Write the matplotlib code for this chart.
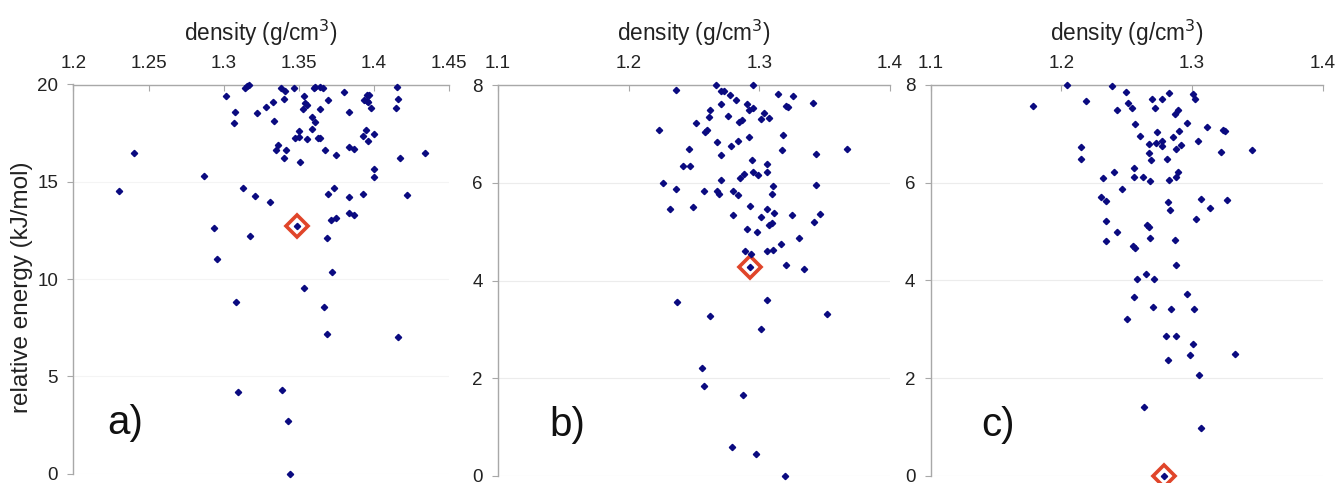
import matplotlib
matplotlib.use("Agg")
import matplotlib.pyplot as plt
from matplotlib.ticker import FuncFormatter

plt.rcParams['font.family'] = ['Liberation Sans', 'DejaVu Sans']

# ---------------- data ----------------
a_density = [1.3144, 1.3155, 1.3168, 1.3381, 1.3407, 1.3467, 1.3602, 1.3609, 1.3640, 1.3662,
             1.3802, 1.4152, 1.3013, 1.3403, 1.3534, 1.3540, 1.3551, 1.3693, 1.3953, 1.3968,
             1.3933, 1.3950, 1.3961, 1.4161, 1.3073, 1.3223, 1.3283, 1.3325, 1.3525, 1.3642,
             1.3835, 1.3977, 1.4143, 1.3066, 1.3334, 1.3589, 1.3609, 1.3587, 1.3498, 1.3476,
             1.3498, 1.3556, 1.3629, 1.3638, 1.3946, 1.3928, 1.3999, 1.3961, 1.2403, 1.3359,
             1.3350, 1.3412, 1.3401, 1.3507, 1.3671, 1.3749, 1.3831, 1.3866, 1.4172, 1.4340,
             1.2867, 1.3999, 1.4001, 1.2304, 1.3128, 1.3210, 1.3305, 1.3695, 1.3733, 1.3833,
             1.3926, 1.4221, 1.2937, 1.3172, 1.3485, 1.3687, 1.3715, 1.3749, 1.3835, 1.3866,
             1.2955, 1.3718, 1.3531, 1.3084, 1.3667, 1.3689, 1.4161, 1.3093, 1.3387, 1.3425,
             1.3441]
a_energy = [19.80, 19.92, 19.97, 19.80, 19.68, 19.80, 19.80, 19.86, 19.89, 19.80,
            19.60, 19.89, 19.39, 19.24, 19.41, 19.03, 18.95, 19.20, 19.44, 19.46,
            19.20, 19.17, 19.08, 19.27, 18.57, 18.53, 18.82, 19.12, 18.74, 18.72,
            18.60, 18.79, 18.77, 18.02, 18.12, 18.35, 18.07, 17.73, 17.61, 17.23,
            17.32, 17.22, 17.23, 17.25, 17.66, 17.33, 17.46, 17.07, 16.50, 16.91,
            16.63, 16.63, 16.20, 16.01, 16.63, 16.39, 16.80, 16.67, 16.22, 16.50,
            15.31, 15.64, 15.26, 14.51, 14.66, 14.27, 13.94, 14.35, 14.70, 14.23,
            14.38, 14.30, 12.60, 12.23, 12.71, 12.09, 13.03, 13.12, 13.39, 13.31,
            11.05, 10.34, 9.52, 8.84, 8.56, 7.17, 7.03, 4.19, 4.31, 2.68,
            0.0]
a_best = (1.3485, 12.71)

b_density = [1.2361, 1.2672, 1.2708, 1.2733, 1.2777, 1.2823, 1.2953, 1.3141, 1.3256, 1.3414,
             1.2710, 1.2902, 1.2922, 1.2955, 1.3205, 1.3223, 1.2621, 1.2616, 1.2759, 1.2843,
             1.2866, 1.3037, 1.3011, 1.3075, 1.2517, 1.2231, 1.2601, 1.2588, 1.3182, 1.2919,
             1.2677, 1.2782, 1.2838, 1.2461, 1.3172, 1.3669, 1.2708, 1.3432, 1.2412, 1.2473,
             1.2947, 1.3055, 1.2884, 1.2853, 1.2953, 1.2993, 1.3057, 1.2703, 1.3103, 1.2264,
             1.2366, 1.2573, 1.2677, 1.2695, 1.2800, 1.2838, 1.3098, 1.3437, 1.2313, 1.2489,
             1.2932, 1.3062, 1.3111, 1.2800, 1.3011, 1.3072, 1.3098, 1.3253, 1.3467, 1.3416,
             1.2904, 1.2983, 1.3307, 1.3169, 1.2889, 1.2935, 1.3060, 1.3108, 1.3202, 1.3343,
             1.2925, 1.2369, 1.3057, 1.2619, 1.3516, 1.3016, 1.2560, 1.2573, 1.2876, 1.2792,
             1.2973, 1.3197]
b_energy = [7.90, 7.99, 7.88, 7.88, 7.80, 7.70, 8.00, 7.82, 7.78, 7.63,
            7.62, 7.62, 7.49, 7.52, 7.58, 7.54, 7.49, 7.34, 7.37, 7.25,
            7.29, 7.42, 7.31, 7.32, 7.22, 7.08, 7.08, 7.04, 6.98, 6.94,
            6.83, 6.76, 6.85, 6.69, 6.68, 6.70, 6.57, 6.58, 6.35, 6.35,
            6.47, 6.38, 6.17, 6.10, 6.22, 6.15, 6.21, 6.06, 5.93, 6.00,
            5.87, 5.83, 5.83, 5.77, 5.83, 5.75, 5.78, 5.95, 5.47, 5.50,
            5.52, 5.47, 5.39, 5.34, 5.30, 5.14, 5.17, 5.34, 5.37, 5.19,
            5.06, 5.00, 4.87, 4.74, 4.60, 4.54, 4.61, 4.62, 4.31, 4.24,
            4.28, 3.57, 3.61, 3.28, 3.32, 3.00, 2.20, 1.84, 1.65, 0.60,
            0.46, 0.0]
b_best = (1.2925, 4.28)

c_density = [1.2041, 1.2390, 1.2495, 1.2827, 1.3010, 1.3023, 1.1781, 1.2186, 1.2508, 1.2691,
             1.2768, 1.2426, 1.2543, 1.2719, 1.2867, 1.2895, 1.2566, 1.2962, 1.3112, 1.3240,
             1.3253, 1.2599, 1.2732, 1.2903, 1.2855, 1.2673, 1.2727, 1.2770, 1.2770, 1.2916,
             1.2875, 1.3043, 1.3219, 1.3462, 1.2148, 1.2148, 1.2673, 1.2686, 1.2806, 1.2554,
             1.2893, 1.2406, 1.2319, 1.2556, 1.2625, 1.2676, 1.2827, 1.2875, 1.2464, 1.2304,
             1.2344, 1.3071, 1.3265, 1.2819, 1.2832, 1.3138, 1.3028, 1.2339, 1.2656, 1.2668,
             1.2429, 1.2679, 1.2344, 1.2867, 1.2546, 1.2561, 1.2875, 1.2650, 1.2582, 1.2707,
             1.2554, 1.2962, 1.2699, 1.2839, 1.3015, 1.2503, 1.2798, 1.2880, 1.3008, 1.2985,
             1.3327, 1.2819, 1.3051, 1.2635, 1.3069, 1.2788]
c_energy = [7.99, 7.98, 7.85, 7.84, 7.80, 7.70, 7.56, 7.67, 7.63, 7.71,
            7.71, 7.49, 7.52, 7.52, 7.41, 7.49, 7.20, 7.22, 7.14, 7.08,
            7.06, 6.96, 7.03, 7.06, 6.93, 6.78, 6.80, 6.85, 6.75, 6.76,
            6.68, 6.84, 6.63, 6.66, 6.72, 6.49, 6.61, 6.46, 6.48, 6.29,
            6.22, 6.22, 6.09, 6.12, 6.11, 6.03, 6.06, 6.11, 5.87, 5.70,
            5.62, 5.67, 5.65, 5.61, 5.43, 5.47, 5.25, 5.22, 5.13, 5.09,
            4.99, 4.86, 4.80, 4.82, 4.71, 4.67, 4.31, 4.13, 4.03, 4.03,
            3.66, 3.72, 3.45, 3.42, 3.42, 3.21, 2.86, 2.86, 2.69, 2.47,
            2.49, 2.38, 2.07, 1.42, 0.98, 0.0]
c_best = (1.2788, 0.0)

panels = [
    dict(d=a_density, e=a_energy, best=a_best, xlim=(1.2, 1.45),
         xticks=[1.2, 1.25, 1.3, 1.35, 1.4, 1.45], ylim=(0, 20), yticks=[0, 5, 10, 15, 20],
         label='a)', rect=[73.3, 449.3, 84.5, 473.5], grid='#f4f4f4'),
    dict(d=b_density, e=b_energy, best=b_best, xlim=(1.1, 1.4),
         xticks=[1.1, 1.2, 1.3, 1.4], ylim=(0, 8), yticks=[0, 2, 4, 6, 8],
         label='b)', rect=[498.0, 890.0, 85.0, 476.0], grid='#ececec'),
    dict(d=c_density, e=c_energy, best=c_best, xlim=(1.1, 1.4),
         xticks=[1.1, 1.2, 1.3, 1.4], ylim=(0, 8), yticks=[0, 2, 4, 6, 8],
         label='c)', rect=[930.7, 1322.7, 84.7, 476.0], grid='#ececec'),
]

W, H = 1336, 483
fig = plt.figure(figsize=(W / 100, H / 100), dpi=100)
fig.patch.set_facecolor('white')

axis_col = '#a8a8a8'
for i, p in enumerate(panels):
    x0, x1, yt, yb = p['rect']
    ax = fig.add_axes([x0 / W, 1 - yb / H, (x1 - x0) / W, (yb - yt) / H])
    ax.set_xlim(*p['xlim'])
    ax.set_ylim(*p['ylim'])
    ax.xaxis.tick_top()
    ax.xaxis.set_label_position('top')
    ax.set_xticks(p['xticks'])
    ax.xaxis.set_major_formatter(FuncFormatter(lambda v, pos: ('%g' % round(v, 3))))
    ax.set_yticks(p['yticks'])
    for s in ['right', 'bottom']:
        ax.spines[s].set_visible(False)
    for s in ['left', 'top']:
        ax.spines[s].set_color(axis_col)
        ax.spines[s].set_linewidth(1.0)
    ax.tick_params(axis='x', direction='in', length=4, color=axis_col, labelsize=13.5,
                   labelcolor='#222222', pad=9)
    ax.tick_params(axis='y', direction='out', length=4, color=axis_col, labelsize=13.5,
                   labelcolor='#222222', pad=7)
    ax.set_axisbelow(True)
    ax.grid(axis='y', color=p['grid'], linewidth=0.8)
    ax.set_xlabel('density (g/cm$^3$)', fontsize=16.3, color='#222222', labelpad=10.5)
    if i == 0:
        ax.set_ylabel('relative energy (kJ/mol)', fontsize=17.5, color='#222222')
        ax.yaxis.set_label_coords(-0.107, 0.48)
    bx, by = p['best']
    ax.plot([bx], [by], marker='D', ms=11, mfc='white', mec='#e0452a', mew=2.6,
            linestyle='none', clip_on=False, zorder=3)
    ax.plot(p['d'], p['e'], marker='D', ms=3.2, color='#0a0a80', linestyle='none',
            clip_on=False, zorder=4)
    ax.text(0.09 if i == 0 else 0.13, 0.13, p['label'], transform=ax.transAxes,
            fontsize=29, color='#111111', ha='left', va='center')

fig.savefig('out.png', dpi=100, facecolor='white')
